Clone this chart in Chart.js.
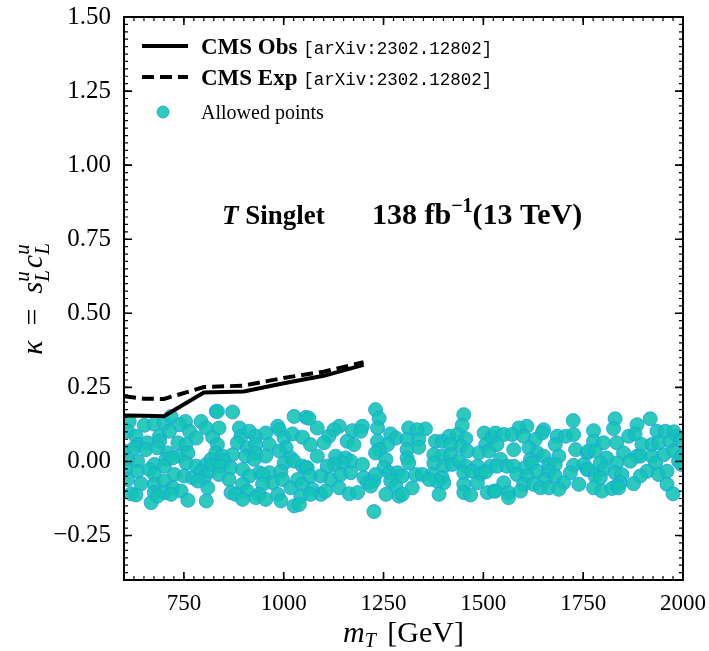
<!DOCTYPE html>
<html>
<head>
<meta charset="utf-8">
<script src="https://cdn.jsdelivr.net/npm/chart.js@4/dist/chart.umd.min.js"></script>
<style>
  html, body { margin: 0; padding: 0; background: #fff; }
  #wrap { width: 709px; height: 651px; }
</style>
</head>
<body>
<div id="wrap"><canvas id="c" width="709" height="651"></canvas></div>
<script>
// CMS observed / expected exclusion limits on kappa versus the T mass
const obsMass  = [600, 650, 700, 800, 900, 1000, 1100, 1200];
const obsKappa = [0.155, 0.154, 0.153, 0.233, 0.236, 0.264, 0.289, 0.326];
const expMass  = [600, 650, 700, 800, 900, 1000, 1100, 1200];
const expKappa = [0.220, 0.212, 0.211, 0.251, 0.256, 0.282, 0.303, 0.335];

// Allowed parameter points [m_T (GeV), kappa], grouped by mass band
const pointsBand1 = [[613,0.135],[651,0.122],[676,0.126],[701,0.130],[718,0.152],[754,0.135],[739,0.124],[793,0.135],[806,0.113],[831,0.169],[822,0.082],[609,0.102],[630,0.085],[634,0.057],[659,0.063],[689,0.085],[689,0.068],[714,0.102],[735,0.063],[764,0.102],[781,0.079],[755,0.057],[601,0.035],[626,0.046],[655,0.040],[684,0.046],[710,0.029],[739,0.018],[760,0.029],[705,0.007],[634,0.001],[609,0.007],[676,-0.010],[701,-0.016],[722,0.012],[756,-0.005],[781,-0.016],[806,-0.010],[818,0.007],[605,-0.027],[634,-0.033],[664,-0.027],[676,-0.044],[726,-0.044],[751,-0.049],[772,-0.055],[793,-0.033],[801,-0.055],[814,-0.033],[609,-0.061],[643,-0.075],[676,-0.077],[701,-0.066],[722,-0.089],[743,-0.100],[618,-0.109],[630,-0.113],[676,-0.105],[701,-0.105],[718,-0.111],[668,-0.139],[684,-0.117],[760,-0.131],[806,-0.133],[810,-0.089],[785,-0.066],[822,-0.010]];
const pointsBand2 = [[834,0.169],[872,0.167],[838,0.113],[889,0.113],[893,0.085],[884,0.063],[914,0.102],[930,0.085],[955,0.096],[985,0.119],[989,0.107],[1001,0.079],[1026,0.152],[1056,0.149],[1022,0.093],[1047,0.082],[834,0.057],[909,0.046],[930,0.057],[964,0.057],[1006,0.046],[989,0.035],[905,0.018],[930,0.029],[955,0.018],[1018,0.012],[830,0.029],[847,0.018],[872,0.023],[851,0.001],[926,0.007],[1001,-0.005],[1026,0.001],[1047,-0.016],[1056,-0.021],[842,-0.016],[868,-0.021],[897,-0.027],[939,-0.038],[964,-0.038],[993,-0.033],[838,-0.044],[863,-0.061],[914,-0.049],[947,-0.044],[972,-0.072],[997,-0.061],[1018,-0.089],[1035,-0.061],[1047,-0.077],[897,-0.077],[947,-0.077],[868,-0.105],[880,-0.111],[909,-0.100],[939,-0.111],[930,-0.122],[955,-0.128],[985,-0.111],[993,-0.133],[1043,-0.117],[1026,-0.150],[1039,-0.145],[897,-0.128]];
const pointsBand3 = [[1063,0.146],[1084,0.113],[1139,0.119],[1126,0.107],[1113,0.085],[1101,0.063],[1172,0.104],[1197,0.119],[1193,0.102],[1230,0.175],[1239,0.146],[1235,0.113],[1268,0.093],[1281,0.079],[1067,0.057],[1159,0.068],[1176,0.057],[1235,0.068],[1260,0.057],[1239,0.040],[1230,0.029],[1084,0.018],[1130,0.018],[1155,0.012],[1168,0.001],[1147,-0.005],[1126,-0.010],[1109,-0.016],[1197,-0.010],[1256,0.007],[1251,-0.021],[1059,-0.021],[1067,-0.049],[1093,-0.049],[1118,-0.061],[1143,-0.044],[1168,-0.038],[1201,-0.055],[1226,-0.066],[1230,-0.044],[1264,-0.038],[1285,-0.038],[1268,-0.066],[1281,-0.083],[1072,-0.094],[1093,-0.111],[1105,-0.100],[1139,-0.089],[1164,-0.109],[1185,-0.105],[1210,-0.072],[1218,-0.083],[1256,-0.111],[1226,-0.169],[1289,-0.117],[1067,-0.111]];
const pointsBand4 = [[1451,0.158],[1447,0.122],[1313,0.113],[1355,0.110],[1334,0.107],[1309,0.074],[1338,0.074],[1338,0.048],[1380,0.068],[1397,0.068],[1414,0.085],[1435,0.091],[1456,0.077],[1443,0.051],[1418,0.057],[1502,0.096],[1506,0.057],[1522,0.082],[1309,0.040],[1309,0.012],[1313,-0.005],[1376,0.023],[1397,0.018],[1418,0.023],[1460,0.035],[1489,0.029],[1514,0.035],[1376,-0.005],[1401,-0.016],[1422,-0.010],[1439,0.001],[1456,-0.016],[1485,-0.016],[1518,-0.016],[1297,-0.049],[1330,-0.044],[1347,-0.044],[1372,-0.044],[1397,-0.055],[1401,-0.072],[1384,-0.066],[1451,-0.038],[1472,-0.033],[1493,-0.042],[1506,-0.035],[1485,-0.072],[1364,-0.061],[1451,-0.077],[1322,-0.089],[1297,-0.111],[1389,-0.111],[1451,-0.105],[1468,-0.113],[1510,-0.105],[1527,-0.100]];
const pointsBand5 = [[1725,0.138],[1609,0.119],[1589,0.113],[1651,0.107],[1647,0.096],[1530,0.096],[1551,0.091],[1572,0.091],[1601,0.085],[1630,0.074],[1685,0.085],[1706,0.085],[1726,0.091],[1680,0.057],[1731,0.040],[1534,0.057],[1576,0.040],[1614,0.046],[1635,0.029],[1651,0.018],[1689,0.018],[1760,0.029],[1543,0.007],[1618,0.007],[1664,-0.010],[1680,-0.010],[1726,-0.013],[1752,-0.010],[1534,-0.016],[1559,-0.016],[1576,-0.016],[1605,-0.021],[1622,-0.005],[1635,-0.033],[1664,-0.033],[1718,-0.038],[1760,-0.027],[1584,-0.044],[1609,-0.049],[1655,-0.061],[1680,-0.049],[1701,-0.072],[1551,-0.072],[1601,-0.077],[1626,-0.077],[1643,-0.089],[1664,-0.089],[1689,-0.094],[1739,-0.077],[1530,-0.100],[1563,-0.105],[1563,-0.122],[1593,-0.100]];
const pointsBand6 = [[1830,0.144],[1918,0.144],[1776,0.104],[1826,0.111],[1885,0.124],[1864,0.085],[1880,0.093],[1935,0.102],[1956,0.102],[1977,0.100],[1985,0.085],[1776,0.068],[1801,0.063],[1834,0.063],[1897,0.057],[1922,0.057],[1939,0.063],[1968,0.068],[1763,0.035],[1780,0.035],[1851,0.029],[1885,0.018],[1893,0.018],[1922,0.018],[1952,0.023],[1977,0.035],[1809,0.012],[1793,-0.005],[1834,-0.005],[1868,0.001],[1931,-0.005],[1989,0.001],[1763,-0.027],[1801,-0.027],[1830,-0.038],[1847,-0.044],[1910,-0.033],[1939,-0.044],[1960,-0.033],[1780,-0.049],[1793,-0.055],[1893,-0.049],[1960,-0.077],[1843,-0.072],[1834,-0.083],[1876,-0.075],[1776,-0.089],[1797,-0.100],[1822,-0.091],[1839,-0.089],[1975,-0.109],[1995,0.070],[1998,0.020],[1996,-0.010]];

const xMajorStep = 250, xMinorStep = 25;
const yMajorStep = 0.25, yMinorStep = 0.025;

const SERIF = '"Liberation Serif", "DejaVu Serif", serif';
const MONO = '"Liberation Mono", "DejaVu Sans Mono", monospace';

const allowed = [].concat(pointsBand1, pointsBand2, pointsBand3, pointsBand4, pointsBand5, pointsBand6)
  .map(p => ({ x: p[0], y: p[1] }));
const toXY = (xs, ys) => xs.map((v, i) => ({ x: v, y: ys[i] }));

// Draw a sequence of text runs; a run may carry a stacked sub/superscript pair.
function runWidth(ctx, r) {
  ctx.font = r.font;
  let w = r.sup !== undefined
    ? Math.max(ctx.measureText(r.sup).width, ctx.measureText(r.sub).width)
    : ctx.measureText(r.t).width;
  return w + (r.gap || 0);
}
function drawRuns(ctx, runs, x, y, align) {
  let total = 0;
  runs.forEach(r => total += runWidth(ctx, r));
  let cx = align === 'center' ? x - total / 2 : x;
  ctx.textAlign = 'left';
  ctx.textBaseline = 'alphabetic';
  runs.forEach(r => {
    ctx.font = r.font;
    if (r.sup !== undefined) {
      ctx.fillText(r.sup, cx, y + r.supDy);
      ctx.fillText(r.sub, cx, y + r.subDy);
    } else {
      ctx.fillText(r.t, cx, y + (r.dy || 0));
    }
    cx += runWidth(ctx, r);
  });
}

function fmtTick(v, digits) {
  const s = Math.abs(v).toFixed(digits);
  return (v < -1e-9 ? '\u2212' : '') + s;
}

// Inward ticks on all four sides, frame, axis titles, annotation and legend
const decorations = {
  id: 'decorations',
  afterDatasetsDraw(chart) {
    const { ctx, chartArea: a, scales: { x, y } } = chart;
    ctx.save();
    ctx.strokeStyle = '#000';
    ctx.fillStyle = '#000';
    ctx.lineWidth = 1.2;
    const ticks = (scale, step, len, horizontal) => {
      const n0 = Math.ceil((scale.min - 1e-9) / step), n1 = Math.floor((scale.max + 1e-9) / step);
      for (let n = n0; n <= n1; n++) {
        const p = scale.getPixelForValue(n * step);
        ctx.beginPath();
        if (horizontal) {
          ctx.moveTo(p, a.bottom); ctx.lineTo(p, a.bottom - len);
          ctx.moveTo(p, a.top); ctx.lineTo(p, a.top + len);
        } else {
          ctx.moveTo(a.left, p); ctx.lineTo(a.left + len, p);
          ctx.moveTo(a.right, p); ctx.lineTo(a.right - len, p);
        }
        ctx.stroke();
      }
    };
    ticks(x, xMinorStep, 4, true);
    ticks(y, yMinorStep, 4, false);
    ctx.lineWidth = 1.6;
    ticks(x, xMajorStep, 8, true);
    ticks(y, yMajorStep, 8, false);
    ctx.lineWidth = 2;
    ctx.strokeRect(a.left, a.top, a.right - a.left, a.bottom - a.top);

    // x axis title: m_T [GeV]
    drawRuns(ctx, [
      { t: 'm', font: 'italic 30px ' + SERIF },
      { t: 'T', font: 'italic 20px ' + SERIF, dy: 5, gap: 4 },
      { t: ' [GeV]', font: '30px ' + SERIF }
    ], (a.left + a.right) / 2, 642, 'center');

    // y axis title: kappa = s_L^u c_L^u
    ctx.save();
    ctx.translate(42, 299);
    ctx.rotate(-Math.PI / 2);
    drawRuns(ctx, [
      { t: '\u03BA', font: 'italic 30px ' + SERIF },
      { t: '\u2002=\u2002', font: '30px ' + SERIF },
      { t: 's', font: 'italic 30px ' + SERIF },
      { sup: 'u', sub: 'L', font: 'italic 21px ' + SERIF, supDy: -13, subDy: 7, gap: 2 },
      { t: 'c', font: 'italic 30px ' + SERIF },
      { sup: 'u', sub: 'L', font: 'italic 21px ' + SERIF, supDy: -13, subDy: 7 }
    ], 0, 0, 'center');
    ctx.restore();

    // annotation
    drawRuns(ctx, [
      { t: 'T', font: 'italic bold 27px ' + SERIF },
      { t: ' Singlet', font: 'bold 27px ' + SERIF }
    ], 222, 224, 'left');
    drawRuns(ctx, [
      { t: '138 fb', font: 'bold 30px ' + SERIF },
      { t: '\u22121', font: 'bold 20px ' + SERIF, dy: -12 },
      { t: '(13 TeV)', font: 'bold 30px ' + SERIF }
    ], 372, 224, 'left');

    // legend
    const rows = [46, 77, 112];
    chart.data.datasets.forEach((ds, i) => {
      const yy = rows[i];
      if (ds.showLine) {
        ctx.save();
        ctx.lineWidth = ds.borderWidth;
        ctx.strokeStyle = ds.borderColor;
        ctx.setLineDash(ds.borderDash || []);
        ctx.beginPath(); ctx.moveTo(142, yy); ctx.lineTo(188, yy); ctx.stroke();
        ctx.restore();
        const k = ds.label.indexOf('[');
        drawRuns(ctx, [
          { t: ds.label.slice(0, k), font: 'bold 23px ' + SERIF },
          { t: ds.label.slice(k), font: '17.5px ' + MONO }
        ], 201, yy + 8, 'left');
      } else {
        ctx.save();
        ctx.fillStyle = ds.backgroundColor;
        ctx.strokeStyle = ds.borderColor;
        ctx.lineWidth = ds.borderWidth;
        ctx.beginPath(); ctx.arc(163, yy, ds.pointRadius - 1, 0, Math.PI * 2); ctx.fill(); ctx.stroke();
        ctx.restore();
        drawRuns(ctx, [{ t: ds.label, font: '20px ' + SERIF }], 201, yy + 7, 'left');
      }
    });
    ctx.restore();
  }
};

new Chart(document.getElementById('c'), {
  type: 'scatter',
  data: {
    datasets: [
      {
        label: 'CMS Obs [arXiv:2302.12802]',
        data: toXY(obsMass, obsKappa),
        showLine: true, borderColor: '#000', borderWidth: 4,
        pointRadius: 0, order: 0, clip: 0
      },
      {
        label: 'CMS Exp [arXiv:2302.12802]',
        data: toXY(expMass, expKappa),
        showLine: true, borderColor: '#000', borderWidth: 4, borderDash: [12, 6],
        pointRadius: 0, order: 0, clip: 0
      },
      {
        label: 'Allowed points',
        data: allowed,
        showLine: false,
        backgroundColor: 'rgba(20, 196, 180, 0.9)',
        borderColor: 'rgba(30, 160, 235, 0.85)',
        borderWidth: 1,
        pointRadius: 7, order: 1, clip: 0
      }
    ]
  },
  options: {
    responsive: false,
    animation: false,
    layout: { padding: { top: 17, right: 26, left: 0, bottom: 0 } },
    plugins: { legend: { display: false }, tooltip: { enabled: false } },
    scales: {
      x: {
        type: 'linear', min: 600, max: 2000,
        grid: { display: false, drawTicks: false },
        border: { display: false },
        afterBuildTicks: s => { s.ticks = s.ticks.filter(t => Math.abs(t.value / xMajorStep - Math.round(t.value / xMajorStep)) < 1e-6); },
        afterFit: s => { s.height = 71; s.paddingLeft = 0; s.paddingRight = 0; },
        ticks: {
          stepSize: xMajorStep, padding: 10, color: '#000', maxRotation: 0, autoSkip: false,
          font: { family: SERIF, size: 23 },
          callback: v => fmtTick(v, 0)
        }
      },
      y: {
        type: 'linear', min: -0.4, max: 1.5,
        grid: { display: false, drawTicks: false },
        border: { display: false },
        afterBuildTicks: s => { s.ticks = s.ticks.filter(t => Math.abs(t.value / yMajorStep - Math.round(t.value / yMajorStep)) < 1e-6); },
        afterFit: s => { s.width = 124; s.paddingTop = 0; s.paddingBottom = 0; },
        ticks: {
          stepSize: yMajorStep, padding: 13, color: '#000', autoSkip: false,
          font: { family: SERIF, size: 25 },
          callback: v => fmtTick(v, 2)
        }
      }
    }
  },
  plugins: [decorations]
});
</script>
</body>
</html>
